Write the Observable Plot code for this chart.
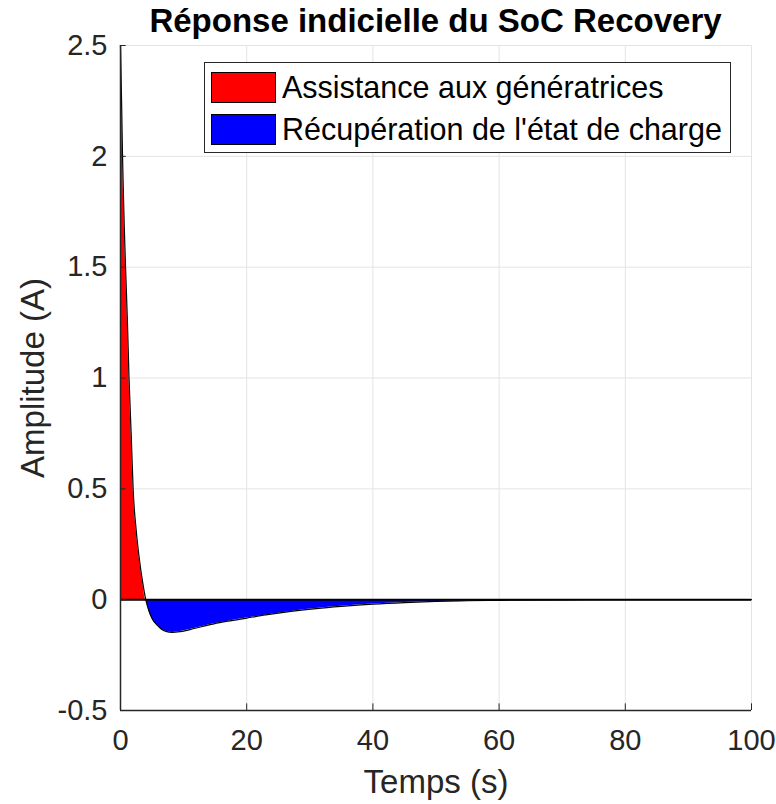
<!DOCTYPE html>
<html>
<head>
<meta charset="utf-8">
<script src="https://cdn.jsdelivr.net/npm/d3@7"></script>
<script src="https://cdn.jsdelivr.net/npm/@observablehq/plot@0.6"></script>
<style>
  body { margin: 0; background: #fff; }
  #wrap { position: relative; width: 776px; height: 804px; font-family: "Liberation Sans", Arial, sans-serif; }
  #title { position: absolute; top: 4px; left: 60px; width: 751px; text-align: center; font-size: 33px; font-weight: bold; line-height: 1; color: #000; white-space: nowrap; z-index: 3; }
  #chart { position: absolute; top: 30px; left: 0; z-index: 1; }
  #legend { position: absolute; left: 204px; top: 62px; width: 525px; height: 89px; border: 1px solid #262626; background: #fff; z-index: 2; }
  .row { position: absolute; left: 6px; height: 32px; display: flex; align-items: center; }
  .sw { width: 65px; height: 31px; border: 1px solid #000; box-sizing: border-box; margin-right: 6px; }
  .lab { font-size: 30.5px; color: #000; white-space: nowrap; }
</style>
</head>
<body>
<div id="wrap">
  <div id="title"></div>
  <div id="chart"></div>
  <div id="legend"></div>
</div>
<script>
// Data
const times  = [0, 0.1, 0.2, 0.3, 0.45, 0.6, 0.8, 1.1, 1.35, 1.7, 2.0, 2.5, 3.0, 3.5, 4.0, 4.5, 5.0, 5.8, 6.5, 7.2, 8.2, 9.5, 11, 13, 14.8, 17, 20, 23, 27, 31, 35, 40, 45, 50, 55, 60, 70, 80, 90, 100];
const values = [2.5, 2.35, 2.2, 2.03, 1.84, 1.68, 1.5, 1.25, 1.0, 0.74, 0.5, 0.31, 0.18, 0.08, 0, -0.05, -0.085, -0.115, -0.133, -0.143, -0.148, -0.144, -0.135, -0.121, -0.109, -0.097, -0.083, -0.069, -0.053, -0.040, -0.030, -0.020, -0.013, -0.008, -0.005, -0.003, -0.001, 0, 0, 0];
const xTicks = [0, 20, 40, 60, 80, 100];
const yTicks = [-0.5, 0, 0.5, 1, 1.5, 2, 2.5];
const yTickLabels = ["-0.5", "0", "0.5", "1", "1.5", "2", "2.5"];
const seriesNames = ["Assistance aux génératrices", "Récupération de l'état de charge"];
const seriesColors = ["#ff0000", "#0000ff"];
const titleText = "Réponse indicielle du SoC Recovery";
const xLabel = "Temps (s)";
const yLabel = "Amplitude (A)";

document.getElementById("title").textContent = titleText;
const data = times.map((t, i) => ({t, v: values[i], pos: Math.max(values[i], 0), neg: Math.min(values[i], 0)}));
const axisColor = "#262626";
const font = "Liberation Sans, Arial, sans-serif";

const chart = Plot.plot({
  width: 776,
  height: 774,
  marginTop: 15,
  marginBottom: 94,
  marginLeft: 120,
  marginRight: 25,
  style: {fontFamily: font, background: "transparent", overflow: "visible"},
  x: {domain: [0, 100]},
  y: {domain: [-0.5, 2.5]},
  marks: [
    Plot.gridX(xTicks, {stroke: "#e3e3e3", strokeOpacity: 1, strokeWidth: 1}),
    Plot.gridY(yTicks, {stroke: "#e3e3e3", strokeOpacity: 1, strokeWidth: 1}),
    Plot.areaY(data, {x: "t", y1: 0, y2: "pos", fill: seriesColors[0], curve: "monotone-x"}),
    Plot.areaY(data, {x: "t", y1: 0, y2: "neg", fill: seriesColors[1], curve: "monotone-x"}),
    Plot.ruleY([0], {stroke: "#000", strokeWidth: 2}),
    Plot.lineY(data, {x: "t", y: "v", stroke: "#000", strokeWidth: 1.2, curve: "monotone-x"}),
    // inward ticks
    Plot.ruleY(yTicks, {x1: 0, x2: 0.9, stroke: axisColor, strokeWidth: 1}),
    Plot.ruleX(xTicks, {y1: -0.5, y2: -0.5 + 0.03, stroke: axisColor, strokeWidth: 1}),
    Plot.axisX(xTicks, {tickSize: 0, tickPadding: 19, fontSize: 29, fill: axisColor, label: null}),
    Plot.axisY(yTicks, {tickSize: 0, tickPadding: 13, fontSize: 29, fill: axisColor, label: null, tickFormat: (d) => yTickLabels[yTicks.indexOf(d)]}),
    Plot.ruleX([0], {stroke: axisColor, strokeWidth: 1.5}),
    Plot.ruleY([-0.5], {stroke: axisColor, strokeWidth: 1.5}),
    Plot.text([xLabel], {frameAnchor: "bottom", dy: 72, lineAnchor: "middle", fontSize: 33, fill: axisColor}),
    Plot.text([yLabel], {frameAnchor: "left", dx: -87, rotate: -90, lineAnchor: "middle", textAnchor: "middle", fontSize: 33, fill: axisColor})
  ]
});
document.getElementById("chart").appendChild(chart);

const legend = document.getElementById("legend");
seriesNames.forEach((name, i) => {
  const row = document.createElement("div");
  row.className = "row";
  row.style.top = (8 + i * 42) + "px";
  const sw = document.createElement("div");
  sw.className = "sw";
  sw.style.background = seriesColors[i];
  const lab = document.createElement("span");
  lab.className = "lab";
  lab.textContent = name;
  row.appendChild(sw);
  row.appendChild(lab);
  legend.appendChild(row);
});
</script>
</body>
</html>
